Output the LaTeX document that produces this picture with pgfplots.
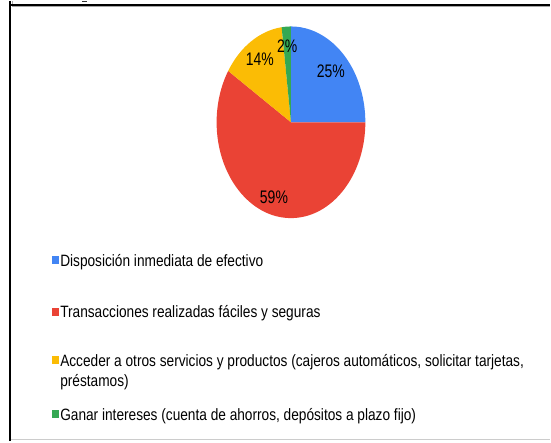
\documentclass[border=0pt]{standalone}
\usepackage{pgfplots}
\pgfplotsset{compat=1.18}
\usepackage{pgfplotstable}
\usepackage{graphicx}
\usepackage{fontspec}
\setmainfont{Liberation Sans}

\definecolor{cBlue}{HTML}{4285F4}
\definecolor{cRed}{HTML}{EA4335}
\definecolor{cYellow}{HTML}{FBBC05}
\definecolor{cGreen}{HTML}{34A853}

% share of each slice, clockwise from 12 o'clock; lr = label radius fraction
\pgfplotstableread[col sep=comma]{
share,col,lr
25,cBlue,0.76
59,cRed,0.82
14,cYellow,0.78
2,cGreen,0.80
}\sharetable

\newcommand\lab[1]{\scalebox{1}[1.3]{\fontsize{14}{16}\selectfont #1}}
\newcommand\leg[1]{\scalebox{1}[1.2]{\fontsize{13.7}{17.25}\selectfont #1}}

\begin{document}
\begin{tikzpicture}
\begin{axis}[
    scale only axis,
    width=551pt, height=441pt,
    xmin=0, xmax=551, ymin=0, ymax=441,
    hide axis, clip=false,
    legend cell align=left,
    legend style={at={(axis cs:51.7,191.3)}, anchor=north west,
        draw=none, fill=none, inner sep=0pt, row sep=0pt, column sep=1.5pt,
        nodes={inner sep=0pt, text depth=, text height=},
        cells={anchor=base west}},
]
\path (axis cs:0,0) rectangle (axis cs:551,441);

% frame
\draw[line width=0.8pt, black!35] (axis cs:12.5,441) -- (axis cs:12.5,435.8) -- (axis cs:551,435.8);
\draw[line width=2pt, black] (axis cs:10.3,441) -- (axis cs:10.3,437.3) -- (axis cs:551,437.3);
\draw[line width=0.8pt, black!20] (axis cs:11,1.7) -- (axis cs:551,1.7);
\draw[line width=2pt, black] (axis cs:10.3,0) -- (axis cs:10.3,437.3);
\fill[black!80] (axis cs:81.7,441) rectangle (axis cs:86.7,440);

% pie
\def\cx{291.5}\def\cy{319.5}\def\rx{74.5}\def\ry{96}
\def\startang{90}
\pgfplotsforeachungrouped \i in {0,...,3}{
  \pgfplotstablegetelem{\i}{share}\of\sharetable \let\sval\pgfplotsretval
  \pgfplotstablegetelem{\i}{col}\of\sharetable \let\scol\pgfplotsretval
  \pgfplotstablegetelem{\i}{lr}\of\sharetable \let\slr\pgfplotsretval
  \pgfmathsetmacro\endang{\startang-3.6*\sval}
  \pgfmathsetmacro\midang{(\startang+\endang)/2}
  \pgfmathsetmacro\lx{\cx+\slr*\rx*cos(\midang)}
  \pgfmathsetmacro\ly{\cy+\slr*\ry*sin(\midang)}
  \edef\temp{%
    \noexpand\fill[\scol] (axis cs:\cx,\cy) -- ++(\startang:\rx pt and \ry pt)
      arc[start angle=\startang, end angle=\endang, x radius=\rx pt, y radius=\ry pt] -- cycle;
    \noexpand\node at (axis cs:\lx,\ly) {\noexpand\lab{\sval\noexpand\%}};
  }
  \temp
  \let\startang\endang
}

\addlegendimage{legend image code/.code={\fill[cBlue] (0pt,3pt) rectangle (6.6pt,10pt);}}
\addlegendentry{\leg{Disposición inmediata de efectivo}\rule[-35.6pt]{0pt}{51.6pt}}
\addlegendimage{legend image code/.code={\fill[cRed] (0pt,3pt) rectangle (6.6pt,10pt);}}
\addlegendentry{\leg{Transacciones realizadas fáciles y seguras}\rule[-32.4pt]{0pt}{48.4pt}}
\addlegendimage{legend image code/.code={\fill[cYellow] (0pt,3pt) rectangle (6.6pt,10pt);}}
\addlegendentry{\leg{\begin{tabular}[t]{@{}l@{}}Acceder a otros servicios y productos (cajeros automáticos, solicitar tarjetas,\\préstamos)\end{tabular}}\rule[-42.3pt]{0pt}{58.3pt}}
\addlegendimage{legend image code/.code={\fill[cGreen] (0pt,3pt) rectangle (6.6pt,10pt);}}
\addlegendentry{\leg{Ganar intereses (cuenta de ahorros, depósitos a plazo fijo)}\rule[-5pt]{0pt}{16pt}}
\end{axis}
\end{tikzpicture}
\end{document}
